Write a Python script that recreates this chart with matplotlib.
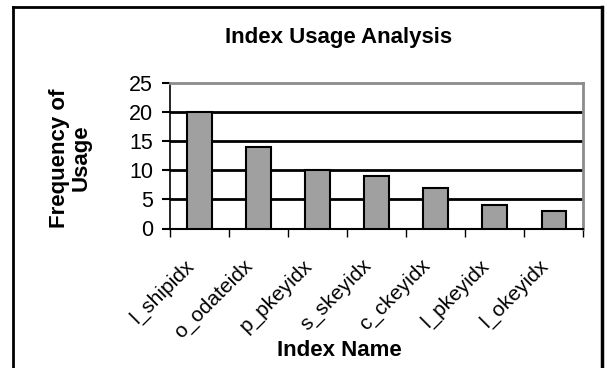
import matplotlib.pyplot as plt
from matplotlib.lines import Line2D
from matplotlib.transforms import ScaledTranslation

plt.rcParams['font.family'] = ['Liberation Sans', 'DejaVu Sans']

# index names and how often each was used
index_names = ['l_shipidx', 'o_odateidx', 'p_pkeyidx', 's_skeyidx',
               'c_ckeyidx', 'l_pkeyidx', 'l_okeyidx']
usage = [20, 14, 10, 9, 7, 4, 3]
y_ticks = [0, 5, 10, 15, 20, 25]

fig = plt.figure(figsize=(6.07, 3.68), dpi=100)
ax = fig.add_axes([169.6 / 607, 1 - 228.5 / 368, (583.5 - 169.6) / 607, (228.5 - 83) / 368])

x = range(len(index_names))
ax.bar(x, usage, width=0.42, color='#a0a0a0', edgecolor='black', linewidth=1.5, zorder=3)

ax.set_xlim(-0.5, len(index_names) - 0.5)
ax.set_ylim(0, 25)
ax.set_yticks(y_ticks)
ax.set_yticklabels([str(v) for v in y_ticks], fontsize=15.5)

# ticks sit between the categories, labels at the centres
ax.set_xticks([i - 0.5 for i in range(len(index_names) + 1)])
ax.set_xticklabels([])
ax.set_xticks(list(x), minor=True)
ax.set_xticklabels(index_names, minor=True, rotation=45, ha='right',
                   rotation_mode='anchor', fontsize=15)
ax.tick_params(axis='x', which='minor', length=0, pad=16)
ax.tick_params(axis='x', which='major', length=6, width=1, direction='out')
ax.tick_params(axis='y', length=6, width=1.5, direction='out', pad=6)

# nudge the slanted names a little left and down
shift = ScaledTranslation(-15 / 100, -5 / 100, fig.dpi_scale_trans)
for lbl in ax.get_xticklabels(minor=True):
    lbl.set_transform(lbl.get_transform() + shift)

for v in y_ticks[1:-1]:
    ax.axhline(v, color='black', linewidth=2, zorder=1)

ax.spines['left'].set_linewidth(1.2)
ax.spines['bottom'].set_linewidth(1.5)
ax.spines['top'].set_color('#8c8c8c')
ax.spines['top'].set_linewidth(2)
ax.spines['right'].set_color('#8c8c8c')
ax.spines['right'].set_linewidth(2)

fig.text(339 / 607, 1 - 38 / 368, 'Index Usage Analysis', fontsize=16,
         fontweight='bold', ha='center', va='center')
fig.text(70 / 607, 1 - 158 / 368, 'Frequency of\nUsage', fontsize=16,
         fontweight='bold', ha='center', va='center', rotation=90,
         linespacing=1.05)
fig.text(339 / 607, 1 - 351 / 368, 'Index Name', fontsize=16,
         fontweight='bold', ha='center', va='center')

# chart border (bottom edge runs off the image)
bx0, bx1, by = 13 / 607, 601.5 / 607, 1 - 7 / 368
fig.add_artist(Line2D([bx0, bx0], [0, by], color='black', linewidth=2))
fig.add_artist(Line2D([bx1, bx1], [0, by], color='black', linewidth=2.5))
fig.add_artist(Line2D([bx0, bx1], [by, by], color='black', linewidth=2))

fig.savefig('out.png', dpi=100)
